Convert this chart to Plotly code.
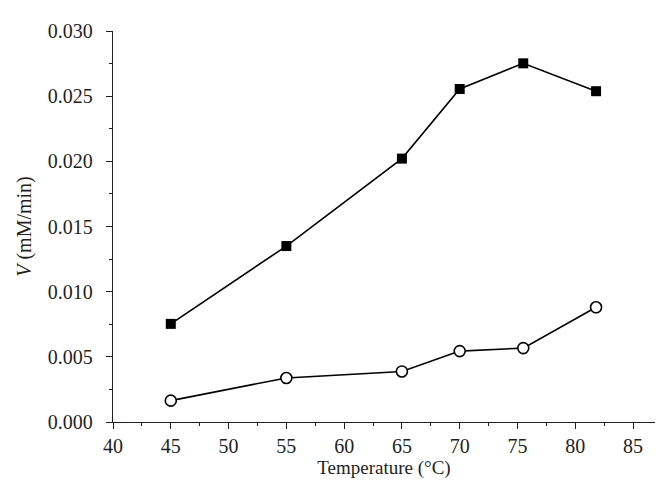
import plotly.graph_objects as go

temps = [45, 55, 65, 70, 75.5, 81.8]
v_square = [0.00753, 0.01350, 0.02021, 0.02555, 0.02752, 0.02538]
v_circle = [0.00164, 0.00338, 0.00388, 0.00544, 0.00567, 0.00880]

x_ticks = [40, 45, 50, 55, 60, 65, 70, 75, 80, 85]
y_ticks = [0.000, 0.005, 0.010, 0.015, 0.020, 0.025, 0.030]
y_labels = ["0.000", "0.005", "0.010", "0.015", "0.020", "0.025", "0.030"]

font_family = "Liberation Serif"

fig = go.Figure()
fig.add_trace(go.Scatter(
    x=temps, y=v_square, mode="lines+markers",
    line=dict(color="black", width=1.6),
    marker=dict(symbol="square", size=10, color="black", line=dict(color="black", width=0)),
    showlegend=False, cliponaxis=False))
fig.add_trace(go.Scatter(
    x=temps, y=v_circle, mode="lines+markers",
    line=dict(color="black", width=1.6),
    marker=dict(symbol="circle", size=11, color="white", line=dict(color="black", width=1.6)),
    showlegend=False, cliponaxis=False))

fig.update_layout(
    width=669, height=501,
    margin=dict(l=105, r=22, t=12, b=87),
    paper_bgcolor="white", plot_bgcolor="white",
    font=dict(family=font_family, size=20, color="#231f20"),
    xaxis=dict(
        range=[40, 86.9], tickvals=x_ticks, ticktext=[str(t) for t in x_ticks],
        showline=True, linecolor="#231f20", linewidth=1.3, showgrid=False, zeroline=False,
        ticks="outside", ticklen=6, tickwidth=1.3, tickcolor="#231f20",
        minor=dict(ticks="outside", ticklen=3, tickwidth=1.3, tickcolor="#231f20", dtick=2.5, tick0=40, showgrid=False),
        title=dict(text="Temperature (°C)", font=dict(family=font_family, size=19), standoff=3),
        tickfont=dict(family=font_family, size=20),
    ),
    yaxis=dict(
        range=[0, 0.030], tickvals=y_ticks, ticktext=y_labels,
        showline=True, linecolor="#231f20", linewidth=1.3, showgrid=False, zeroline=False,
        ticks="outside", ticklen=6, tickwidth=1.3, tickcolor="#231f20",
        minor=dict(ticks="outside", ticklen=3, tickwidth=1.3, tickcolor="#231f20", dtick=0.0025, tick0=0, showgrid=False),
        ticklabelstandoff=9,
        title=dict(text="<i>V</i> (mM/min)", font=dict(family=font_family, size=20), standoff=10),
        tickfont=dict(family=font_family, size=20),
    ),
)

fig.write_html("out.html")
